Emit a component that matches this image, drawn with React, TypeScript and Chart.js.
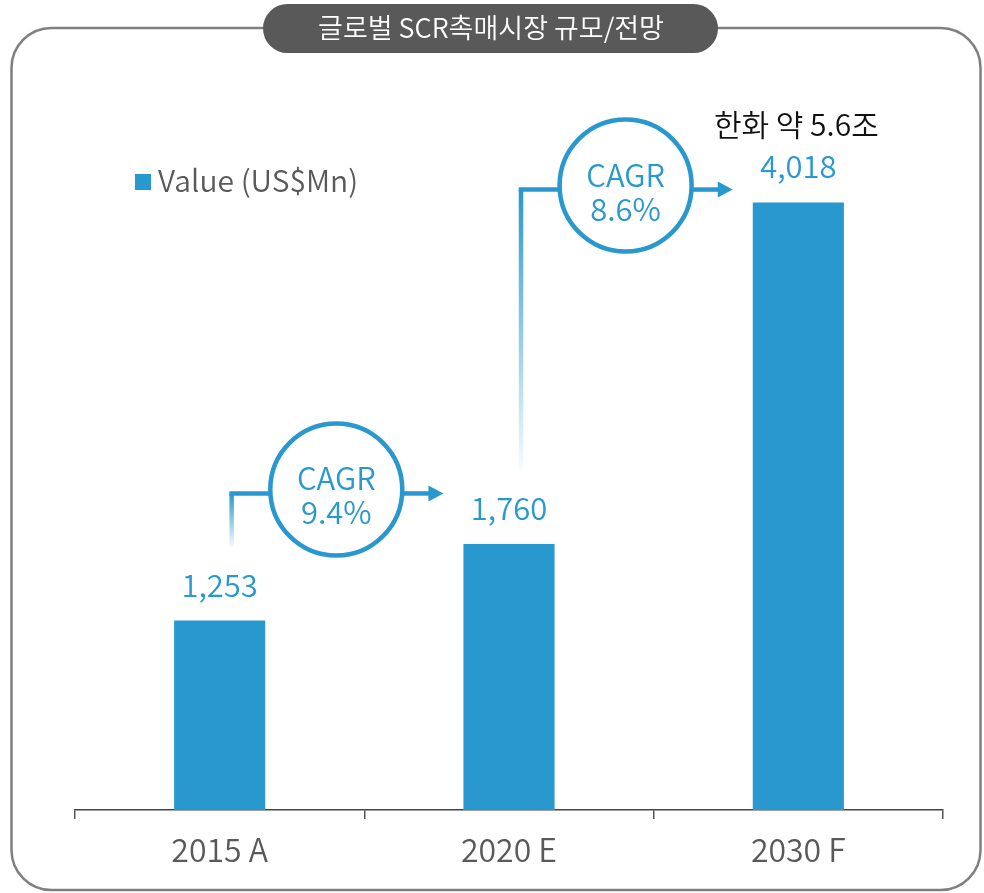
import React, { useEffect, useRef } from "react";
import { Chart, registerables } from "chart.js";

Chart.register(...registerables);

// ---------- data ----------
const TITLE = "글로벌 SCR촉매시장 규모/전망";
const CATEGORIES = ["2015 A", "2020 E", "2030 F"];
const SERIES_LABEL = "Value (US$Mn)";
const VALUES = [1253, 1760, 4018];
const CAGR_LABELS = ["9.4%", "8.6%"];
const CAGR_LEVELS = [2120, 4130]; // value-axis level of each CAGR badge
const NOTE = "한화 약 5.6조";
const Y_MIN = 0;
const Y_MAX = 5000;

// ---------- styles ----------
const BLUE = "#2898CF";
const GREY_TEXT = "#595959";
const FONT = "'Noto Sans CJK KR', 'Noto Sans', sans-serif";
const LIGHT = "350";

const decorPlugin = {
  id: "decor",
  beforeDraw(chart: any) {
    const ctx = chart.ctx as CanvasRenderingContext2D;
    ctx.save();
    ctx.fillStyle = "#ffffff";
    ctx.fillRect(0, 0, chart.width, chart.height);
    // outer rounded frame
    ctx.strokeStyle = "#7f7f7f";
    ctx.lineWidth = 2.5;
    ctx.beginPath();
    (ctx as any).roundRect(11.5, 28, 969, 862, 40);
    ctx.stroke();
    // title pill
    ctx.fillStyle = "#595959";
    ctx.beginPath();
    (ctx as any).roundRect(263, 4, 455, 49, 24.5);
    ctx.fill();
    ctx.fillStyle = "#ffffff";
    ctx.font = `${LIGHT} 27px ${FONT}`;
    ctx.textAlign = "center";
    ctx.textBaseline = "alphabetic";
    ctx.fillText(TITLE, 491, 38);
    ctx.restore();
  },
  afterDatasetsDraw(chart: any) {
    const ctx = chart.ctx as CanvasRenderingContext2D;
    const xs = chart.scales.x;
    const ys = chart.scales.y;
    const bars = chart.getDatasetMeta(0).data as any[];
    ctx.save();

    // legend
    ctx.fillStyle = BLUE;
    ctx.fillRect(135, 174, 16, 16);
    ctx.fillStyle = GREY_TEXT;
    ctx.font = `${LIGHT} 30px ${FONT}`;
    ctx.textAlign = "left";
    ctx.textBaseline = "alphabetic";
    ctx.fillText(chart.data.datasets[0].label, 158, 192);

    // value labels
    ctx.textAlign = "center";
    ctx.fillStyle = BLUE;
    ctx.font = `${LIGHT} 31px ${FONT}`;
    bars.forEach((b, i) => {
      ctx.fillText(VALUES[i].toLocaleString("en-US"), b.x, b.y - 24);
    });

    // note above last bar
    const last = bars[bars.length - 1];
    ctx.fillStyle = "#111111";
    ctx.font = `${LIGHT} 30px ${FONT}`;
    ctx.fillText(NOTE, last.x - 2, last.y - 66);

    // CAGR badges with connectors
    CAGR_LABELS.forEach((lab, i) => {
      const x0 = xs.getPixelForValue(i);
      const x1 = xs.getPixelForValue(i + 1);
      const catW = x1 - x0;
      const r = 66;
      const cx = x0 + 0.403 * catW;
      const cy = ys.getPixelForValue(CAGR_LEVELS[i]);
      const lineY = cy + 4;
      const vx = x0 + 12;
      const bottom = bars[i].y - 73;
      const next = bars[i + 1];
      const tip = next.x - next.width / 2 - 20;

      ctx.lineWidth = 4.5;
      ctx.lineCap = "butt";
      ctx.lineJoin = "miter";
      // vertical fading leg
      const g = ctx.createLinearGradient(0, lineY, 0, bottom);
      g.addColorStop(0, BLUE);
      g.addColorStop(1, "rgba(40,152,207,0.03)");
      ctx.strokeStyle = g;
      ctx.beginPath();
      ctx.moveTo(vx, bottom);
      ctx.lineTo(vx, lineY);
      ctx.stroke();
      // horizontal to circle
      ctx.strokeStyle = BLUE;
      ctx.beginPath();
      ctx.moveTo(vx - 2.25, lineY);
      ctx.lineTo(cx - r, lineY);
      ctx.stroke();
      // arrow
      ctx.beginPath();
      ctx.moveTo(cx + r, lineY);
      ctx.lineTo(tip - 14, lineY);
      ctx.stroke();
      ctx.fillStyle = BLUE;
      ctx.beginPath();
      ctx.moveTo(tip, lineY);
      ctx.lineTo(tip - 15, lineY - 8);
      ctx.lineTo(tip - 15, lineY + 8);
      ctx.closePath();
      ctx.fill();
      // circle
      ctx.fillStyle = "#ffffff";
      ctx.beginPath();
      ctx.arc(cx, cy, r, 0, Math.PI * 2);
      ctx.fill();
      ctx.strokeStyle = BLUE;
      ctx.lineWidth = 4.5;
      ctx.stroke();
      // text
      ctx.fillStyle = BLUE;
      ctx.font = `${LIGHT} 31px ${FONT}`;
      ctx.textAlign = "center";
      ctx.fillText("CAGR", cx, cy + 1);
      ctx.fillText(lab, cx, cy + 35);
    });

    ctx.restore();
  },
};

export default function App() {
  const ref = useRef<HTMLCanvasElement>(null);

  useEffect(() => {
    if (!ref.current) return;
    const chart = new Chart(ref.current, {
      type: "bar",
      data: {
        labels: CATEGORIES,
        datasets: [
          {
            label: SERIES_LABEL,
            data: VALUES,
            backgroundColor: BLUE,
            borderWidth: 0,
            barPercentage: 0.315,
            categoryPercentage: 1,
          },
        ],
      },
      options: {
        responsive: false,
        animation: false,
        layout: { padding: { left: 75, right: 41, top: 54, bottom: 0 } },
        plugins: {
          legend: { display: false },
          tooltip: { enabled: false },
          title: { display: false },
        },
        scales: {
          x: {
            grid: {
              display: true,
              drawOnChartArea: false,
              drawTicks: true,
              tickLength: 9,
              color: "#555555",
              lineWidth: 1.5,
              offset: true,
            },
            border: { display: true, color: "#444444", width: 1.5 },
            ticks: {
              color: GREY_TEXT,
              font: { family: FONT, size: 32, weight: LIGHT as any },
              padding: 12,
              maxRotation: 0,
            },
            afterFit: (s: any) => {
              s.height = 83;
            },
          },
          y: {
            display: false,
            min: Y_MIN,
            max: Y_MAX,
          },
        },
      },
      plugins: [decorPlugin],
    });
    return () => chart.destroy();
  }, []);

  return (
    <div style={{ position: "absolute", left: 0, top: 0, width: 984, height: 893 }}>
      <canvas ref={ref} width={984} height={893} style={{ display: "block" }} />
    </div>
  );
}
